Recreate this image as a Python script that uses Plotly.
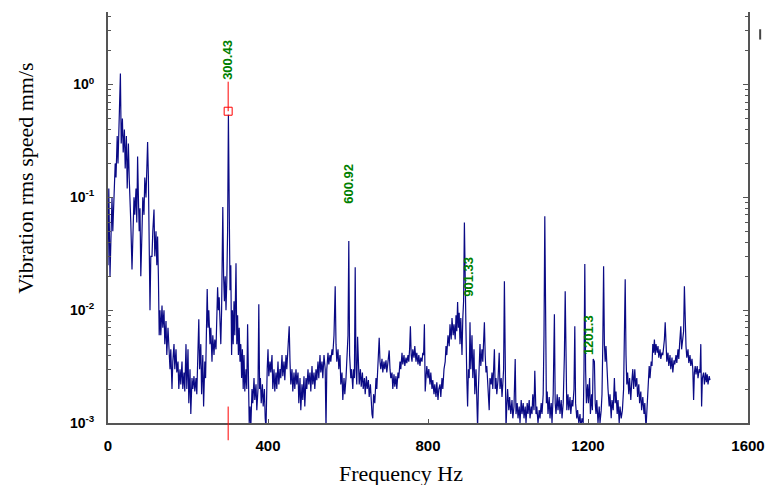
import plotly.graph_objects as go
import math

# ---- spectrum data (frequency Hz, rms speed mm/s) ----
freq_a = [0,2,5,8,10,12,15,18,20,23,25,28,31,33,36,38,41,43,46,48,51,53,55,57,60,62,65,67,70,72,74,76,78,80,82,85,87,90,92,95,97,99,101,103,105,107,110,112,115,117,120,122,124,126,128]
amp_a = [0.025,0.12,0.02,0.06,0.1,0.05,0.09,0.2,0.15,0.35,0.2,0.45,1.25,0.3,0.5,0.25,0.4,0.18,0.35,0.12,0.3,0.15,0.1,0.06,0.023,0.05,0.1,0.07,0.12,0.06,0.23,0.1,0.05,0.08,0.02,0.05,0.1,0.07,0.15,0.1,0.22,0.31,0.15,0.04,0.01,0.03,0.03,0.05,0.078,0.03,0.05,0.025,0.045,0.02,0.006]

freq_b = [130,132,135,137,140,142,145,147,150,152,155,157,160,162,165,167,170,172,175,177,180,182,185,187,190,192,195,197,200,202,205,207,210,212,215,217,220,222,225,227,229,232,234,237,239,242,244,246,248,250,252,255,257,260,262,265,267,270,272,274,276,278,280,282,284,287,289,291,293,295,297,299,301,303,305,307,309,311,313,315,317,320,322,324,326,328,330,332,334,336,338,340,342,345,347,349,351,353,355]
amp_b = [0.01,0.006,0.011,0.007,0.01,0.005,0.008,0.004,0.007,0.0045,0.003,0.0045,0.002,0.0035,0.005,0.003,0.0045,0.0028,0.0035,0.002,0.003,0.0022,0.0035,0.002,0.0028,0.0019,0.005,0.002,0.0045,0.0015,0.003,0.0012,0.0025,0.002,0.0026,0.0019,0.0025,0.0018,0.004,0.0083,0.003,0.005,0.0018,0.004,0.0014,0.0035,0.0025,0.008,0.0154,0.007,0.01,0.005,0.007,0.0035,0.006,0.004,0.0055,0.0045,0.012,0.016,0.01,0.013,0.008,0.005,0.01,0.082,0.02,0.012,0.02,0.01,0.018,0.05,0.54,0.05,0.015,0.025,0.004,0.01,0.005,0.012,0.006,0.026,0.005,0.009,0.004,0.007,0.0035,0.005,0.0025,0.0045,0.002,0.004,0.0019,0.003,0.002,0.0075,0.002,0.001,0.0014]

freq_c = [357,360,362,365,367,370,372,375,377,379,381,383,386,388,391,393,395,398,400,402,405,407,410,412,415,417,420,422,425,427,430,432,435,437,440,442,445,447,450,453,455,457,460,462,465,467,470,472,475,477,480,482,485,487,490,492,495,497,500,502,505,507,510,512,515,517,520,522,525,527,530,532,535,537,540,543,545,547,550,552,555,557,560,562,565,568,570,572,575,577,580,582,585,587,590,592,595,597,600,602,604,607,609,612,614,616,618,620]
amp_c = [0.0009,0.002,0.0015,0.0025,0.0016,0.0022,0.0013,0.002,0.0113,0.002,0.0025,0.0015,0.0022,0.0014,0.002,0.0011,0.0009,0.003,0.0045,0.0026,0.0035,0.0028,0.004,0.002,0.003,0.0019,0.0028,0.002,0.0035,0.0022,0.003,0.0025,0.004,0.0026,0.0035,0.0024,0.004,0.003,0.0045,0.0072,0.0035,0.0022,0.003,0.0019,0.0028,0.002,0.003,0.0022,0.0028,0.0015,0.0025,0.0013,0.0022,0.0016,0.0026,0.0014,0.0025,0.002,0.003,0.0022,0.0028,0.0019,0.0032,0.0022,0.0028,0.002,0.003,0.0024,0.0035,0.0025,0.004,0.0028,0.0035,0.0025,0.004,0.003,0.0009,0.003,0.0042,0.0033,0.004,0.0035,0.0045,0.004,0.006,0.0163,0.005,0.0035,0.0045,0.003,0.004,0.0022,0.0028,0.0016,0.0025,0.0018,0.0025,0.004,0.006,0.041,0.004,0.0025,0.003,0.002,0.003,0.0025,0.024,0.003]

freq_d = [622,624,626,628,631,633,636,638,641,643,646,648,651,653,656,658,660,662,664,667,670,672,675,678,680,682,685,687,690,692,695,697,700,703,705,707,710,712,715,717,720,722,725,727,730,732,735,737,740,742,745,747,750,752,754,756,758,760,762,765,767,770,772,775,777,780,782,785,787,789,791,793,795,797,800,802,805,807,810,812,815,817,820,822,825,827,830,832,835,837,840,843,845,847,850,853,855,858,860,863,865,868,870,872,874,876,878,880,882,885,887,889,891,893,895,897,899,901,903]
amp_d = [0.0022,0.0058,0.0028,0.0022,0.003,0.0021,0.0028,0.002,0.0025,0.0018,0.0026,0.002,0.0024,0.0017,0.0022,0.0015,0.0012,0.0011,0.0018,0.0015,0.0025,0.002,0.003,0.0057,0.0035,0.003,0.0037,0.0028,0.0035,0.003,0.0036,0.0028,0.0035,0.0044,0.003,0.0025,0.0028,0.002,0.0027,0.0021,0.0026,0.002,0.0028,0.0025,0.0035,0.003,0.0042,0.0033,0.004,0.0032,0.0038,0.0034,0.004,0.0035,0.0045,0.0072,0.004,0.0035,0.0045,0.0038,0.0048,0.0035,0.0042,0.0033,0.004,0.0032,0.0038,0.0035,0.0042,0.004,0.0075,0.0019,0.0025,0.0032,0.0025,0.003,0.0022,0.0028,0.002,0.0024,0.0018,0.0022,0.0017,0.0023,0.0016,0.002,0.0022,0.0017,0.0025,0.002,0.003,0.0035,0.0048,0.004,0.006,0.0048,0.0075,0.0055,0.0085,0.006,0.0075,0.0055,0.009,0.0065,0.0118,0.007,0.0095,0.005,0.0085,0.004,0.0085,0.012,0.06,0.012,0.0065,0.0025,0.0014,0.003,0.0025]

freq_e = [905,907,910,912,915,917,920,922,924,926,928,930,932,935,937,939,941,943,945,947,950,953,955,958,960,962,964,966,968,970,972,975,978,980,983,985,987,989,991,993,995,997,999,1002,1004,1007,1010,1012,1015,1018,1020,1023,1025,1028,1030,1033,1035,1038,1040,1043,1045,1048,1050,1053,1055,1058,1060,1062,1065,1067,1070,1072,1075,1078,1080,1083,1085,1088,1090,1092,1094,1096,1098,1100,1103,1105,1108,1110,1113,1116,1118,1120,1123,1125,1128,1130,1133,1135,1138,1141,1143,1145,1147,1150,1152,1155,1157,1160,1162,1165,1167,1169,1172,1174,1177,1180,1182,1185,1188,1190,1192,1194,1196,1199]
amp_e = [0.0078,0.003,0.006,0.0025,0.0045,0.0018,0.003,0.0015,0.0009,0.002,0.0035,0.005,0.0032,0.0045,0.0035,0.005,0.0078,0.004,0.0028,0.0032,0.0022,0.0013,0.0025,0.0022,0.0028,0.002,0.003,0.0045,0.002,0.0025,0.0018,0.0024,0.0042,0.002,0.0025,0.0017,0.0022,0.003,0.018,0.0025,0.0009,0.0014,0.002,0.0013,0.0017,0.0012,0.0016,0.0011,0.0014,0.0037,0.0012,0.0015,0.0011,0.0014,0.001,0.0016,0.0012,0.0015,0.0011,0.0014,0.001,0.0015,0.0012,0.0016,0.0011,0.0014,0.0012,0.0018,0.0013,0.0029,0.0012,0.0014,0.001,0.0013,0.0011,0.0015,0.0012,0.0018,0.006,0.068,0.005,0.0015,0.0019,0.0012,0.0017,0.0011,0.0015,0.001,0.0018,0.0092,0.0015,0.0012,0.0018,0.0013,0.0017,0.0012,0.0016,0.0011,0.0015,0.004,0.0147,0.004,0.0013,0.0018,0.0013,0.0017,0.0012,0.0016,0.0014,0.002,0.0072,0.0015,0.0011,0.0013,0.001,0.0012,0.0009,0.0011,0.001,0.003,0.0256,0.003,0.0015,0.0022]

freq_f = [1201,1204,1206,1209,1211,1213,1216,1218,1220,1222,1225,1228,1230,1233,1235,1237,1239,1241,1243,1245,1247,1250,1253,1255,1258,1260,1263,1266,1268,1270,1273,1275,1278,1280,1283,1286,1289,1291,1293,1295,1297,1299,1302,1304,1307,1309,1312,1314,1317,1319,1322,1324,1327,1329,1332,1334,1337,1340,1342,1345,1348,1350,1353,1355,1358,1360,1362,1364,1366,1368,1370,1373,1375,1377,1380,1382,1385,1387,1389,1391,1393,1395,1397,1400,1402,1405,1407,1410,1412,1415,1417,1420,1422,1425,1427,1429,1432,1434,1436,1439,1441,1443,1445,1447,1450,1452,1455,1457,1460,1462,1464,1466,1468,1470,1473,1475,1478,1480,1482,1484,1486,1489,1491,1494,1496,1498,1500,1503,1505]
amp_f = [0.0015,0.0025,0.0012,0.0018,0.0013,0.0037,0.0035,0.0015,0.0012,0.0016,0.001,0.0014,0.001,0.0013,0.0018,0.005,0.0245,0.005,0.0035,0.0048,0.0028,0.002,0.0014,0.0018,0.0011,0.0016,0.0013,0.0025,0.0015,0.0019,0.0012,0.0016,0.001,0.0014,0.0011,0.0013,0.002,0.006,0.0188,0.004,0.0022,0.0028,0.0018,0.0025,0.0016,0.0022,0.003,0.002,0.003,0.0021,0.0025,0.0017,0.0022,0.0015,0.0019,0.0013,0.0017,0.0012,0.0015,0.0009,0.0015,0.0022,0.0032,0.0025,0.0035,0.0032,0.005,0.0042,0.0055,0.004,0.005,0.0042,0.0048,0.0038,0.0045,0.0037,0.0042,0.004,0.0045,0.0055,0.0078,0.004,0.0035,0.0042,0.0032,0.004,0.003,0.0038,0.0028,0.0036,0.0033,0.004,0.0034,0.0045,0.0037,0.005,0.0072,0.0045,0.0055,0.0065,0.0163,0.008,0.0048,0.0038,0.0045,0.0034,0.004,0.0032,0.0037,0.003,0.0016,0.0028,0.0032,0.0027,0.0032,0.0025,0.003,0.0028,0.005,0.0014,0.0025,0.0028,0.0022,0.0028,0.0023,0.0027,0.0022,0.0026,0.0024]

freqs = freq_a + freq_b + freq_c + freq_d + freq_e + freq_f
amps = amp_a + amp_b + amp_c + amp_d + amp_e + amp_f

# harmonic labels
label_freq = [300.43, 600.92, 901.33, 1201.3]
label_text = ["300.43", "600.92", "901.33", "1201.3"]
label_base = [1.06, 0.085, 0.0125, 0.0038]   # value where each label starts
cursor_freq = 300.43
cursor_amp = 0.58

y_ticks = [1e-3, 1e-2, 1e-1, 1e0]
y_tick_text = ["10<sup>-3</sup>", "10<sup>-2</sup>", "10<sup>-1</sup>", "10<sup>0</sup>"]
x_ticks = [0, 400, 800, 1200, 1600]

x_title = "Frequency Hz"
y_title = "Vibration rms speed mm/s"

fig = go.Figure()
fig.add_trace(go.Scatter(x=freqs, y=amps, mode="lines",
                         line=dict(color="#0a0a85", width=1.2), showlegend=False))
# cursor: red line from marker up to label, and marker
fig.add_trace(go.Scatter(x=[cursor_freq, cursor_freq], y=[cursor_amp, label_base[0]], mode="lines",
                         line=dict(color="#ff0000", width=1), showlegend=False))
fig.add_trace(go.Scatter(x=[cursor_freq], y=[cursor_amp], mode="markers",
                         marker=dict(symbol="square-open", size=8, color="#ff0000", line=dict(width=1)),
                         showlegend=False))

for f, t, b in zip(label_freq, label_text, label_base):
    fig.add_annotation(x=f, y=math.log10(b), text="<b>%s</b>" % t, textangle=-90,
                       showarrow=False, xanchor="center", yanchor="bottom",
                       font=dict(family="Liberation Sans, Arial", size=13, color="#008000"))

serif = dict(family="Liberation Serif, Times New Roman", size=22, color="black")
fig.add_annotation(xref="paper", yref="paper", x=0.458, y=-0.124, text=x_title, showarrow=False,
                   xanchor="center", yanchor="middle", font=serif)
fig.add_annotation(xref="paper", yref="paper", x=-0.13, y=0.596, text=y_title, showarrow=False,
                   textangle=-90, xanchor="center", yanchor="middle", font=serif)

# red cursor tick across the x axis
fig.add_shape(type="line", xref="x", yref="paper", x0=cursor_freq, x1=cursor_freq, y0=-0.042, y1=0.04,
              line=dict(color="#ff0000", width=1))
# small legend stub at right
fig.add_shape(type="line", xref="paper", yref="paper", x0=1.019, x1=1.019, y0=0.933, y1=0.958,
              line=dict(color="#444444", width=2))

axis_font = dict(family="Liberation Sans, Arial", size=15, color="black")
yaxis_font = dict(family="Liberation Sans, Arial", size=14, color="black")
fig.update_layout(
    width=767, height=485,
    margin=dict(l=108, r=19, t=12, b=62),
    paper_bgcolor="white", plot_bgcolor="white",
    xaxis=dict(range=[0, 1600], tickvals=x_ticks, ticktext=["<b>%d</b>" % v for v in x_ticks],
               showline=True, linecolor="#555555", linewidth=2, ticks="inside", ticklen=4,
               tickcolor="#555555", showgrid=False, zeroline=False, tickfont=axis_font,
               automargin=False, ticklabelstandoff=8),
    yaxis=dict(type="log", range=[-3, 0.643], tickvals=y_ticks, ticktext=["<b>%s</b>" % s for s in y_tick_text],
               showline=True, linecolor="#555555", linewidth=2, ticks="inside", ticklen=5,
               tickcolor="#555555", mirror="ticks", showgrid=False, zeroline=False, tickfont=yaxis_font,
               minor=dict(ticks="inside", ticklen=3, tickcolor="#555555", dtick="D1", showgrid=False),
               automargin=False, ticklabelstandoff=9),
)

fig.write_html("out.html", config={"displayModeBar": False},
               post_script="document.body.style.margin='0';document.body.style.overflow='hidden';")
